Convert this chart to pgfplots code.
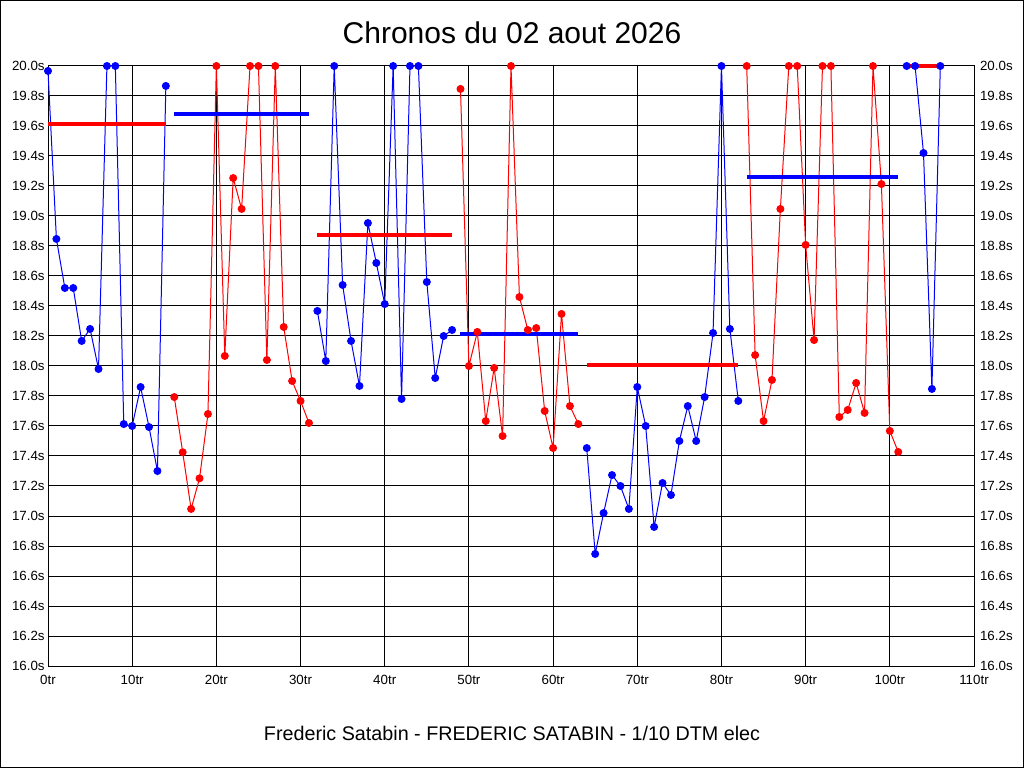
\documentclass[border=0pt]{standalone}
\usepackage{pgfplots}
\pgfplotsset{compat=1.18}
\usepackage{fontspec}
\setmainfont{Liberation Sans}
\definecolor{cblue}{RGB}{0,0,255}
\definecolor{cred}{RGB}{255,0,0}
\begin{document}
\begin{tikzpicture}[x=0.75pt,y=0.75pt]
\draw[line width=0.75pt] (0.5,0.5) rectangle (1023.5,767.5);
\node[font=\fontsize{22.5}{26}\selectfont] at (512,735) {Chronos du 02 aout 2026};
\node[font=\fontsize{14.8}{17}\selectfont] at (512,35) {Frederic Satabin - FREDERIC SATABIN - 1/10 DTM elec};
\begin{axis}[
  at={(48pt*0.75,102pt*0.75)}, anchor=south west,
  scale only axis, width=694.5pt, height=450pt,
  xmin=0, xmax=110, ymin=16, ymax=20,
  xtick={0,10,...,110},
  xticklabels={0tr,10tr,20tr,30tr,40tr,50tr,60tr,70tr,80tr,90tr,100tr,110tr},
  ytick={16,16.2,...,20.01},
  yticklabels={16.0s,16.2s,16.4s,16.6s,16.8s,17.0s,17.2s,17.4s,17.6s,17.8s,18.0s,18.2s,18.4s,18.6s,18.8s,19.0s,19.2s,19.4s,19.6s,19.8s,20.0s},
  ticklabel style={font=\fontsize{10}{11}\selectfont},
  major tick length=0pt,
  xticklabel style={yshift=-3pt},
  yticklabel style={xshift=1pt},
  grid=major, major grid style={black, line width=0.75pt},
  axis line style={black, line width=0.75pt},
  clip=false,
  every axis plot/.append style={line width=0.75pt},
]
% segment 1 (blue)
\addplot[cblue, mark=*, mark size=2.6pt] coordinates {
(0,19.967)(1,18.847)(2,18.52)(3,18.52)(4,18.167)(5,18.247)(6,17.98)(7,20)(8,20)(9,17.613)(10,17.6)(11,17.86)(12,17.593)(13,17.3)(14,19.867)};
\addplot[cred, line width=3pt] coordinates {(0,19.613)(14,19.613)};
% segment 2 (red)
\addplot[cred, mark=*, mark size=2.6pt] coordinates {
(15,17.793)(16,17.425)(17,17.047)(18,17.251)(19,17.68)(20,20)(21,18.067)(22,19.253)(23,19.047)(24,20)(25,20)(26,18.04)(27,20)(28,18.26)(29,17.9)(30,17.767)(31,17.62)};
\addplot[cblue, line width=3pt] coordinates {(15,19.678)(31,19.678)};
% segment 3 (blue)
\addplot[cblue, mark=*, mark size=2.6pt] coordinates {
(32,18.367)(33,18.033)(34,20)(35,18.54)(36,18.167)(37,17.867)(38,18.953)(39,18.687)(40,18.413)(41,20)(42,17.78)(43,20)(44,20)(45,18.56)(46,17.92)(47,18.2)(48,18.24)};
\addplot[cred, line width=3pt] coordinates {(32,18.873)(48,18.873)};
% segment 4 (red)
\addplot[cred, mark=*, mark size=2.6pt] coordinates {
(49,19.847)(50,18.0)(51,18.227)(52,17.633)(53,17.987)(54,17.533)(55,20)(56,18.46)(57,18.24)(58,18.253)(59,17.7)(60,17.453)(61,18.347)(62,17.733)(63,17.613)};
\addplot[cblue, line width=3pt] coordinates {(49,18.213)(63,18.213)};
% segment 5 (blue)
\addplot[cblue, mark=*, mark size=2.6pt] coordinates {
(64,17.453)(65,16.747)(66,17.02)(67,17.273)(68,17.2)(69,17.047)(70,17.86)(71,17.6)(72,16.927)(73,17.22)(74,17.14)(75,17.5)(76,17.733)(77,17.5)(78,17.793)(79,18.22)(80,20)(81,18.247)(82,17.767)};
\addplot[cred, line width=3pt] coordinates {(64,18.007)(82,18.007)};
% segment 6 (red)
\addplot[cred, mark=*, mark size=2.6pt] coordinates {
(83,20)(84,18.073)(85,17.633)(86,17.907)(87,19.047)(88,20)(89,20)(90,18.807)(91,18.173)(92,20)(93,20)(94,17.66)(95,17.707)(96,17.887)(97,17.687)(98,20)(99,19.213)(100,17.567)(101,17.427)};
\addplot[cblue, line width=3pt] coordinates {(83,19.26)(101,19.26)};
% segment 7 (blue)
\addplot[cblue, mark=*, mark size=2.6pt] coordinates {
(102,20)(103,20)(104,19.42)(105,17.847)(106,20)};
\addplot[cred, line width=3pt] coordinates {(102,20)(106,20)};
\end{axis}
\begin{axis}[
  at={(48pt*0.75,102pt*0.75)}, anchor=south west,
  scale only axis, width=694.5pt, height=450pt,
  xmin=0, xmax=110, ymin=16, ymax=20,
  axis x line=none, axis y line*=right,
  ytick={16,16.2,...,20.01},
  yticklabels={16.0s,16.2s,16.4s,16.6s,16.8s,17.0s,17.2s,17.4s,17.6s,17.8s,18.0s,18.2s,18.4s,18.6s,18.8s,19.0s,19.2s,19.4s,19.6s,19.8s,20.0s},
  ticklabel style={font=\fontsize{10}{11}\selectfont},
  major tick length=0pt,
  axis line style={black, line width=0.75pt},
  yticklabel style={xshift=1pt},
]
\addplot[draw=none] coordinates {(0,16)};
\end{axis}
\end{tikzpicture}
\end{document}
